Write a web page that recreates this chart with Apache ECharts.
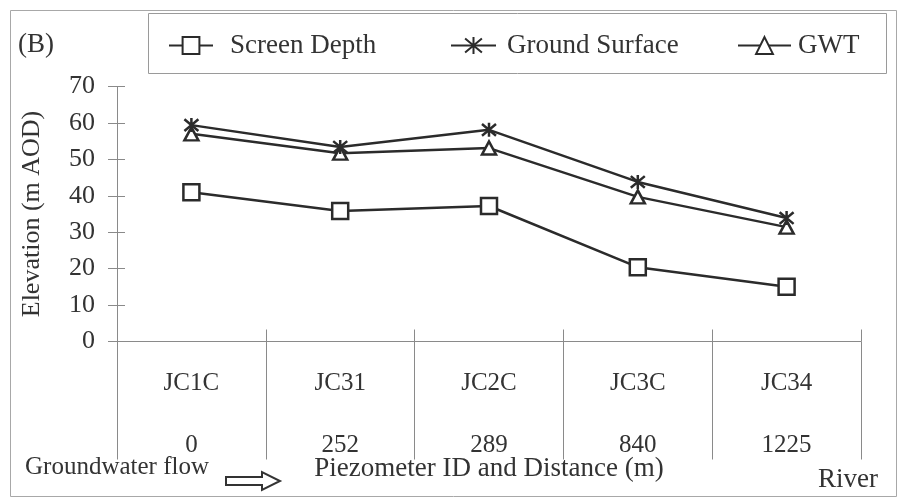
<!DOCTYPE html>
<html>
<head>
<meta charset="utf-8">
<title>Elevation profile</title>
<script src="https://cdn.jsdelivr.net/npm/echarts@6/dist/echarts.min.js"></script>
<style>
  html, body { margin: 0; padding: 0; background: #ffffff; }
  #chart { width: 900px; height: 498px; }
</style>
</head>
<body>
<div id="chart"></div>
<script>
// Piezometers along the flow path and their distance from JC1C (m)
const stations = ['JC1C', 'JC31', 'JC2C', 'JC3C', 'JC34'];
const distances = ['0', '252', '289', '840', '1225'];

// Elevations in m AOD
const screenDepth = [41.0, 35.8, 37.2, 20.4, 15.0];
const groundSurface = [59.4, 53.4, 58.1, 43.8, 33.9];
const gwt = [57.0, 51.7, 53.1, 39.7, 31.4];

// Elevation axis range
const elevMin = 0;
const elevMax = 70;
const elevStep = 10;

const FONT = 'Liberation Serif';
const INK = '#333333';
const LINE = '#2b2b2b';
const AXIS = '#8a8a8a';

const starPath = 'path://M0,0L10,10M10,0L0,10M5,-1L5,11';

const chart = echarts.init(document.getElementById('chart'), null, { renderer: 'canvas' });

function legendFor(name, left, itemWidth, padLeft) {
  return {
    data: [name],
    left: left,
    top: 27,
    padding: 5,
    orient: 'horizontal',
    itemWidth: itemWidth,
    itemHeight: 21,
    selectedMode: false,
    textStyle: {
      fontFamily: FONT,
      fontSize: 27,
      color: INK,
      padding: [0, 0, 0, padLeft]
    }
  };
}

const option = {
  backgroundColor: '#ffffff',
  animation: false,
  grid: {
    left: 117, right: 39, top: 86.5, bottom: 156.5,
    containLabel: false,
    outerBoundsMode: 'none'
  },
  legend: [
    legendFor('Screen Depth', 163, 44, 12),
    legendFor('Ground Surface', 445, 45, 6),
    legendFor('GWT', 732, 53, 2)
  ],
  xAxis: [
    {
      type: 'category',
      data: stations,
      boundaryGap: true,
      position: 'bottom',
      name: 'Piezometer ID and Distance (m)',
      nameLocation: 'middle',
      nameGap: 114,
      nameMoveOverlap: false,
      nameTextStyle: { fontFamily: FONT, fontSize: 27, color: INK },
      axisLine: { show: true, lineStyle: { color: AXIS, width: 1 } },
      axisTick: { show: true, inside: false, length: 118, interval: 0, lineStyle: { color: AXIS, width: 1 } },
      axisLabel: {
        show: true,
        interval: 0,
        margin: 11,
        fontFamily: FONT,
        fontSize: 25,
        color: INK,
        lineHeight: 62,
        formatter: function (value, idx) { return value + '\n' + distances[idx]; }
      },
      splitLine: { show: false }
    },
    {
      type: 'category',
      data: stations,
      boundaryGap: true,
      position: 'bottom',
      axisLine: { show: false },
      axisTick: { show: true, inside: true, length: 12, interval: 0, lineStyle: { color: AXIS, width: 1 } },
      axisLabel: { show: false },
      splitLine: { show: false }
    }
  ],
  yAxis: [
    {
      type: 'value',
      min: elevMin,
      max: elevMax,
      interval: elevStep,
      name: 'Elevation (m AOD)',
      nameLocation: 'middle',
      nameGap: 72,
      nameMoveOverlap: false,
      nameTextStyle: { fontFamily: FONT, fontSize: 26, color: INK },
      axisLine: { show: true, lineStyle: { color: AXIS, width: 1 } },
      axisTick: { show: true, inside: false, length: 9, lineStyle: { color: AXIS, width: 1 } },
      axisLabel: { margin: 22, fontFamily: FONT, fontSize: 26, color: INK },
      splitLine: { show: false }
    },
    {
      type: 'value',
      min: elevMin,
      max: elevMax,
      interval: elevStep,
      position: 'left',
      axisLine: { show: false },
      axisTick: { show: true, inside: true, length: 8, lineStyle: { color: AXIS, width: 1 } },
      axisLabel: { show: false },
      splitLine: { show: false }
    }
  ],
  series: [
    {
      name: 'Screen Depth',
      type: 'line',
      data: screenDepth,
      symbol: 'rect',
      symbolSize: 16,
      showAllSymbol: true,
      lineStyle: { color: LINE, width: 2.5 },
      itemStyle: { color: '#ffffff', borderColor: LINE, borderWidth: 2.5 },
      z: 3
    },
    {
      name: 'Ground Surface',
      type: 'line',
      data: groundSurface,
      symbol: starPath,
      symbolSize: 14,
      showAllSymbol: true,
      lineStyle: { color: LINE, width: 2.5 },
      itemStyle: { color: 'rgba(255,255,255,0)', borderColor: LINE, borderWidth: 2.5 },
      z: 4
    },
    {
      name: 'GWT',
      type: 'line',
      data: gwt,
      symbol: 'triangle',
      symbolSize: [14, 13],
      showAllSymbol: true,
      lineStyle: { color: LINE, width: 2.5 },
      itemStyle: { color: '#ffffff', borderColor: LINE, borderWidth: 2.5 },
      z: 3
    }
  ],
  graphic: [
    {
      type: 'rect',
      silent: true,
      shape: { x: 10.5, y: 10.5, width: 886, height: 486 },
      style: { fill: 'none', stroke: '#a8a8a8', lineWidth: 1 }
    },
    {
      type: 'rect',
      silent: true,
      shape: { x: 148.5, y: 13.5, width: 738, height: 60 },
      style: { fill: 'none', stroke: '#9a9a9a', lineWidth: 1 }
    },
    {
      type: 'text',
      silent: true,
      left: 18,
      top: 31,
      style: { text: '(B)', fontFamily: FONT, fontSize: 27, fill: INK }
    },
    {
      type: 'text',
      silent: true,
      left: 25,
      top: 455,
      style: { text: 'Groundwater flow', fontFamily: FONT, fontSize: 25, fill: INK }
    },
    {
      type: 'polygon',
      silent: true,
      shape: {
        points: [[226, 477], [262, 477], [262, 472], [280, 481], [262, 490], [262, 485], [226, 485]]
      },
      style: { fill: '#ffffff', stroke: INK, lineWidth: 2 }
    },
    {
      type: 'text',
      silent: true,
      left: 818,
      top: 466,
      style: { text: 'River', fontFamily: FONT, fontSize: 27, fill: INK }
    }
  ]
};

chart.setOption(option);
</script>
</body>
</html>
